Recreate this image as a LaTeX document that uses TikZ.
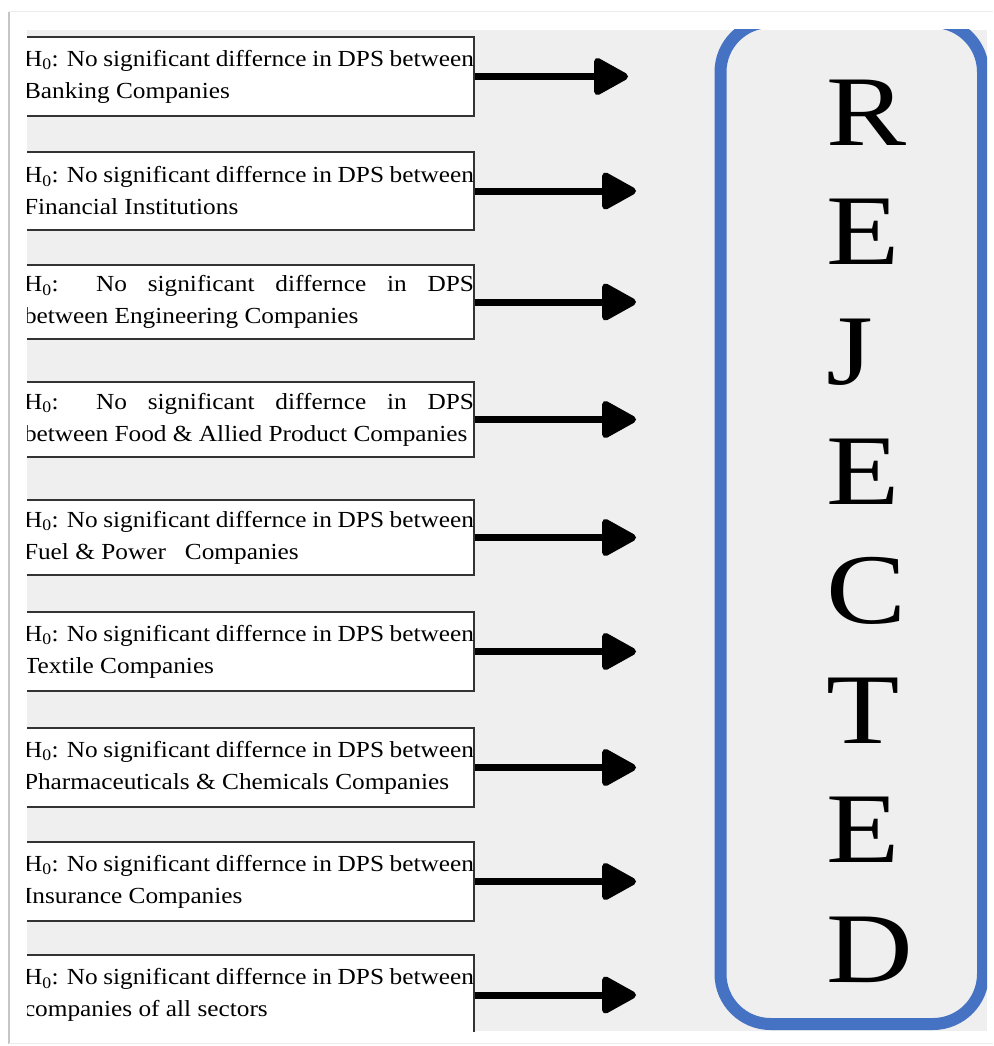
\documentclass[tikz,border=0pt]{standalone}
\usepackage{fontspec}
\setmainfont{Liberation Serif}[FakeStretch=1.1]
\newfontfamily\bigserif{Liberation Serif}[FakeStretch=1.2]
\usetikzlibrary{arrows.meta}
\definecolor{pagegray}{RGB}{239,239,239}
\definecolor{rejblue}{RGB}{70,114,196}

\begin{document}
\begin{tikzpicture}[
  x=1pt,y=-1pt,
  hyp/.style={draw=black!80,line width=1.3pt,fill=white,text width=450pt,inner xsep=0pt,inner ysep=0pt,align=justify,font=\fontsize{23pt}{32pt}\selectfont},
  arr/.style={-{Triangle[length=38pt,width=40pt,round]},line width=7pt},
  verdict/.style={draw=rejblue,line width=12pt,rounded corners=50pt},
  letter/.style={font=\bigserif\fontsize{100pt}{100pt}\selectfont,inner sep=0pt,anchor=base west}
]
\useasboundingbox (0,0) rectangle (993,1046);
\fill[white] (0,0) rectangle (993,1046);
\draw[gray!45,line width=2pt] (9,12) -- (9,1044);
\draw[gray!15] (9,11) -- (993,11);
\draw[gray!15] (9,1043) -- (993,1043);
\fill[pagegray] (27,30) rectangle (987,1031);

\begin{scope}
\clip (27,30) rectangle (987,1031);
\coordinate (tipa) at (628,0);
\coordinate (tipx) at (636,0);

\node[hyp,minimum height=79pt] (bank) at (249,76.5) {H\textsubscript{0}: No significant differnce in DPS between\linebreak Banking Companies};
\node[hyp,minimum height=78pt] (fin) at (249,191) {H\textsubscript{0}: No significant differnce in DPS between\linebreak Financial Institutions};
\node[hyp,minimum height=74pt] (eng) at (249,302) {H\textsubscript{0}: No significant differnce in DPS\linebreak between Engineering Companies};
\node[hyp,minimum height=75pt] (food) at (249,419.5) {H\textsubscript{0}: No significant differnce in DPS\linebreak between Food \& Allied Product Companies};
\node[hyp,minimum height=75pt] (fuel) at (249,537.5) {H\textsubscript{0}: No significant differnce in DPS between\linebreak Fuel \& Power\ \ \ Companies};
\node[hyp,minimum height=79pt] (tex) at (249,651.5) {H\textsubscript{0}: No significant differnce in DPS between\linebreak Textile Companies};
\node[hyp,minimum height=79pt] (pharma) at (249,767.5) {H\textsubscript{0}: No significant differnce in DPS between\linebreak Pharmaceuticals \& Chemicals Companies};
\node[hyp,minimum height=79pt] (ins) at (249,881.5) {H\textsubscript{0}: No significant differnce in DPS between\linebreak Insurance Companies};
\node[hyp,minimum height=80pt] (all) at (249,995) {H\textsubscript{0}: No significant differnce in DPS between\linebreak companies of all sectors};

\draw[arr] (bank.east) -- (bank.east -| tipa);
\draw[arr] (fin.east) -- (fin.east -| tipx);
\draw[arr] (eng.east) -- (eng.east -| tipx);
\draw[arr] (food.east) -- (food.east -| tipx);
\draw[arr] (fuel.east) -- (fuel.east -| tipx);
\draw[arr] (tex.east) -- (tex.east -| tipx);
\draw[arr] (pharma.east) -- (pharma.east -| tipx);
\draw[arr] (ins.east) -- (ins.east -| tipx);
\draw[arr] (all.east) -- (all.east -| tipx);

\node[verdict,minimum width=262.5pt,minimum height=1002pt] (rej) at (851.75,523) {};
\node[letter] (lr) at (826,145) {R};
\node[letter] (le1) at (826,264.5) {E};
\node[letter] (lj) at (826,384) {J};
\node[letter] (le2) at (826,504) {E};
\node[letter] (lc) at (826,623.5) {C};
\node[letter] (lt) at (826,743) {T};
\node[letter] (le3) at (826,862.5) {E};
\node[letter] (ld) at (826,982) {D};
\end{scope}
\end{tikzpicture}
\end{document}
